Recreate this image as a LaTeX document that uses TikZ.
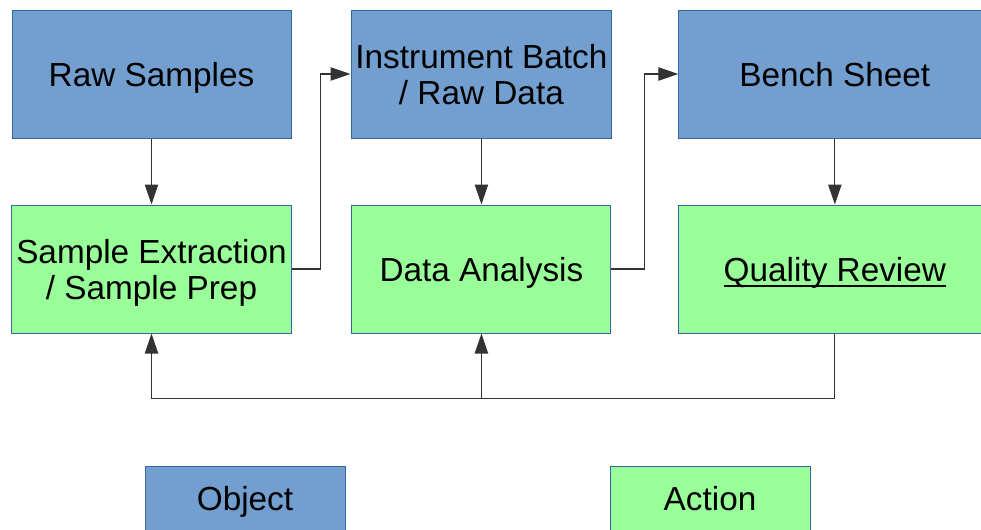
\documentclass[tikz,border=0pt]{standalone}
\usepackage{fontspec}
\setmainfont{Liberation Sans}
\usepackage{tikz}
\usetikzlibrary{positioning, arrows.meta, calc}

\definecolor{objfill}{RGB}{114,159,207}
\definecolor{actfill}{RGB}{153,255,153}
\definecolor{boxline}{RGB}{52,101,164}
\newcommand{\boxfont}{\fontsize{25}{27}\selectfont}
\newcommand{\ulabel}[1]{\setbox0\hbox{#1}\rlap{\rule[-4.5pt]{\wd0}{1.3pt}}\box0}

\begin{document}
\begin{tikzpicture}[
            x=0.75pt, y=-0.75pt,
            >={Triangle[length=15pt, width=10pt]},
            object/.style={rectangle, draw=boxline, fill=objfill, line width=0.75pt,
                    minimum height=96pt, align=center, font=\boxfont, text depth=0pt},
            action/.style={rectangle, draw=boxline, fill=actfill, line width=0.75pt,
                    minimum height=96pt, align=center, font=\boxfont, text depth=0pt},
            arrow/.style={->, line width=0.9pt, black!80},
            ]

            \clip (0,0) rectangle (981,529);

            \node[object, minimum width=209.25pt] (raw) at (151.5,74) {Raw Samples};
            \node[object, minimum width=194.25pt, right=44.25pt of raw] (batch) {Instrument Batch\\/ Raw Data};
            \node[object, minimum width=234pt, right=49.5pt of batch] (bench) {Bench Sheet};
            \node[action, minimum width=209.25pt, below=49.5pt of raw] (prep) {Sample Extraction\\/ Sample Prep};
            \node[action, minimum width=194.25pt, below=49.5pt of batch] (analysis) {Data Analysis};
            \node[action, minimum width=234pt, below=49.5pt of bench] (review) {\ulabel{Quality Review}};

            \node[object, minimum width=150pt, minimum height=48pt] (objkey) at (245,498) {Object};
            \node[action, minimum width=150pt, minimum height=48pt] (actkey) at (710,498) {Action};

            \draw[arrow] (raw) -- (prep);
            \draw[arrow] (batch) -- (analysis);
            \draw[arrow] (bench) -- (review);

            \draw[arrow] (prep.east) -- ++(29,0) |- (batch.west);
            \draw[arrow] (analysis.east) -- ++(33,0) |- (bench.west);

            \coordinate (loop) at ($(review.south)+(0,65)$);
            \draw[arrow] (review.south) -- (loop) -| (prep.south);
            \draw[arrow] (analysis.south |- loop) -- (analysis.south);

        \end{tikzpicture}
\end{document}
